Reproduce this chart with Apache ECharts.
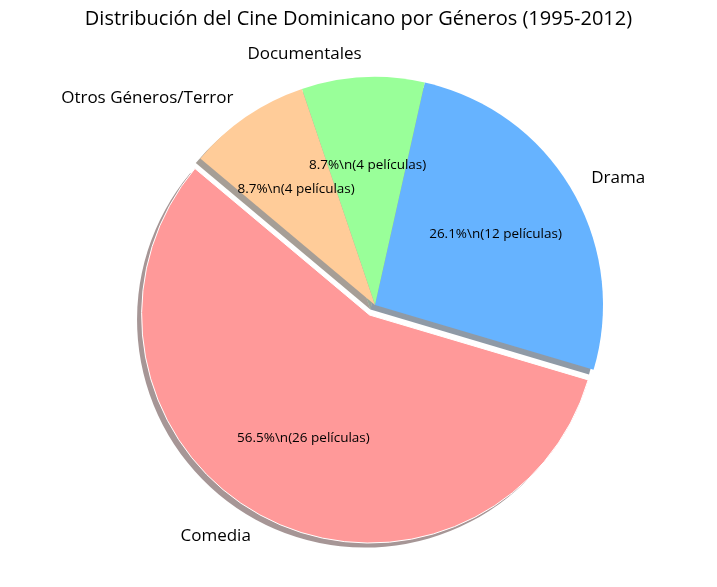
<!DOCTYPE html>
<html lang="es">
<head>
    <meta charset="UTF-8">
    <title>Cine Dominicano</title>
    <style>
        html,body{margin:0;padding:0;background:#fff;}
        #chart{width:717px;height:587px;}
    </style>
</head>
<body>
    <script src="https://cdn.jsdelivr.net/npm/echarts@6/dist/echarts.min.js"></script>
    <div id="chart"></div>
    <script>
        let generos=['Comedia','Drama','Documentales','Otros Géneros/Terror'];
        let peliculas=[26,12,4,4];
        let colores=['#ff9999','#66b3ff','#99ff99','#ffcc99'];
        let explotado=[true,false,false,false];

        let total=peliculas.reduce((a,b)=>a+b,0);
        let R=228;
        let cx=375,cy=305;
        let fuente='Open Sans';

        function sombra(hex){
            let n=parseInt(hex.slice(1),16);
            let r=(n>>16)&255,g=(n>>8)&255,b=n&255;
            return `rgba(${Math.round(r*0.3)},${Math.round(g*0.3)},${Math.round(b*0.3)},0.5)`;
        }

        function datos(colorFn,borde){
            return generos.map((name,i)=>{
                let item={
                    name,
                    value:peliculas[i],
                    selected:explotado[i],
                    itemStyle:{color:colorFn(i)},
                };
                if(borde && explotado[i]){
                    item.itemStyle.borderColor='#fff';
                    item.itemStyle.borderWidth=1;
                }
                return item;
            });
        }

        let base={
            type:'pie',
            startAngle:140,
            clockwise:false,
            selectedMode:'single',
            selectedOffset:R*0.05,
            avoidLabelOverlap:false,
            emphasis:{disabled:true},
            select:{disabled:false},
            animation:false,
        };

        let chart=echarts.init(document.getElementById('chart'));
        chart.setOption({
            animation:false,
            title:{
                text:'Distribución del Cine Dominicano por Géneros (1995-2012)',
                left:'center',
                top:4,
                textStyle:{fontFamily:fuente,fontSize:20,fontWeight:'normal',color:'#000'},
            },
            series:[
                Object.assign({},base,{
                    name:'sombra',
                    z:1,
                    silent:true,
                    center:[cx-R*0.02,cy+R*0.02],
                    radius:[0,R],
                    label:{show:false},
                    labelLine:{show:false},
                    data:datos(i=>sombra(colores[i]),false),
                }),
                Object.assign({},base,{
                    name:'Géneros',
                    z:2,
                    center:[cx,cy],
                    radius:[0,R],
                    label:{
                        show:true,
                        position:'outside',
                        fontFamily:fuente,
                        fontSize:17,
                        color:'#000',
                        distanceToLabelLine:0,
                        formatter:'{b}',
                    },
                    labelLine:{show:false,length:R*0.1,length2:0},
                    data:datos(i=>colores[i],true),
                }),
                Object.assign({},base,{
                    name:'porcentajes',
                    z:3,
                    silent:true,
                    center:[cx,cy],
                    radius:[R*0.2,R],
                    label:{
                        show:true,
                        position:'inside',
                        fontFamily:fuente,
                        fontSize:13.5,
                        color:'#000',
                        formatter:(p)=>`${(p.value/total*100).toFixed(1)}%\\n(${p.value} películas)`,
                    },
                    labelLine:{show:false},
                    data:datos(()=> 'rgba(0,0,0,0)',false),
                }),
            ],
        });
    </script>
</body>
</html>
